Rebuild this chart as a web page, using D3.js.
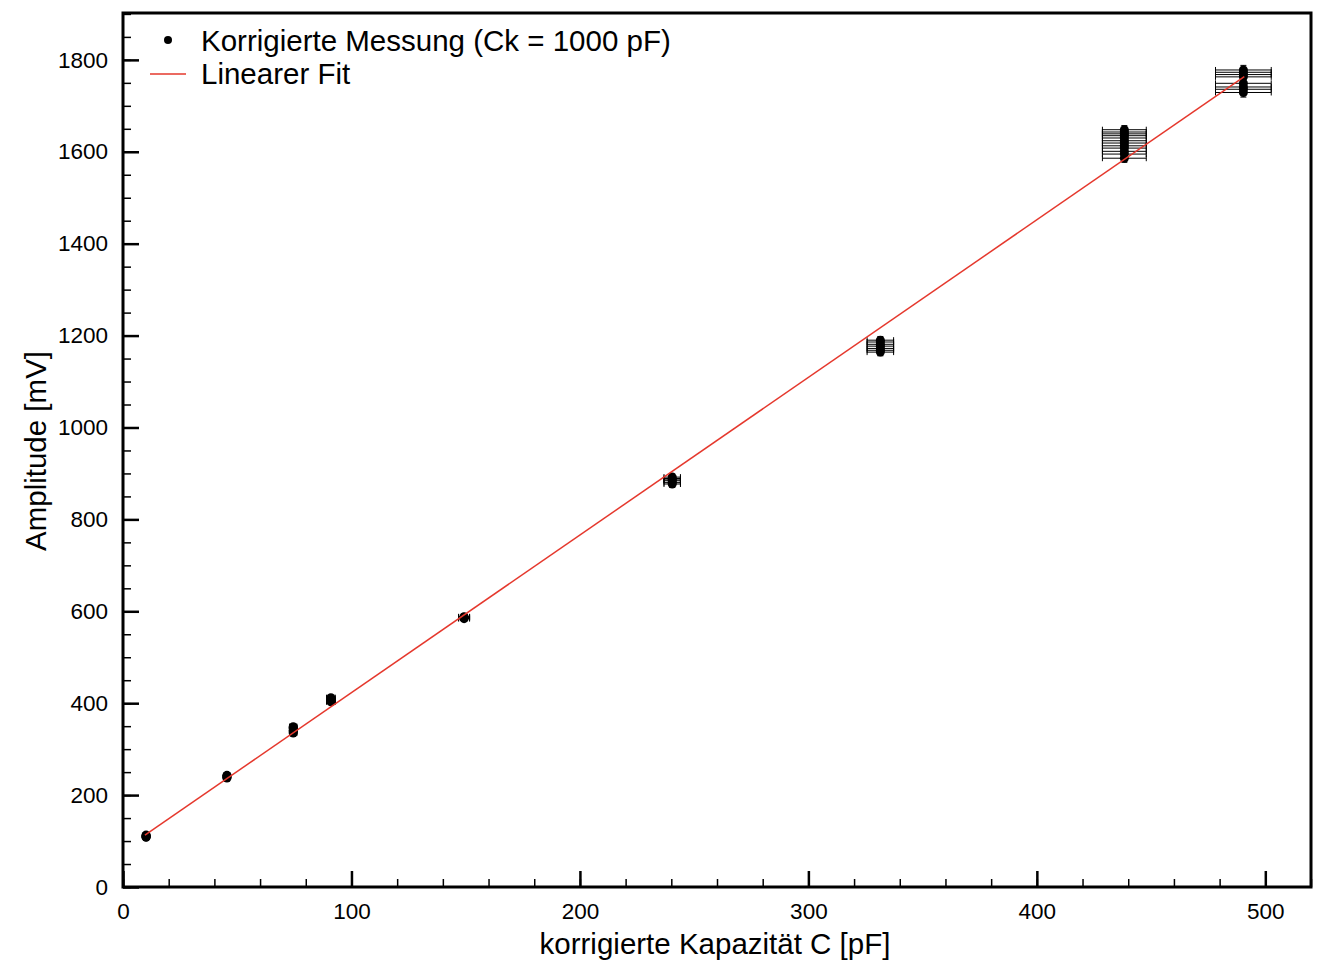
<!DOCTYPE html>
<html>
<head>
<meta charset="utf-8">
<script src="https://cdn.jsdelivr.net/npm/d3@7"></script>
<style>
  body { margin: 0; background: #fff; }
  svg text { font-family: "Liberation Sans", Arial, Helvetica, sans-serif; fill: #000; }
</style>
</head>
<body>
<svg id="chart" width="1326" height="961"></svg>
<script>
// measured capacitances (pF), with their x uncertainties
const capacities = [10.1, 45.5, 74.5, 91.0, 149.3, 240.4, 331.5, 438.3, 490.4];
const capErrors = [0.4, 1.0, 1.6, 1.9, 2.4, 3.6, 5.8, 9.6, 12.2];
const ampErrors = [4, 5, 5, 5, 6, 7, 8, 9, 10];

// repeated amplitude readings (mV) for each capacitance
const amplitudes = [
    [108, 110, 112, 111, 109, 113],
    [237, 239, 242, 243, 240],
    [335, 338, 341, 345, 347, 349],
    [403, 406, 410, 412, 405],
    [584, 586, 588, 587],
    [877, 880, 884, 886, 889, 892],
    [1164, 1168, 1172, 1177, 1181, 1186, 1190],
    [1586, 1595, 1601, 1608, 1613, 1619, 1624, 1630, 1635, 1639, 1643, 1648],
    [1729, 1736, 1741, 1749, 1763, 1768, 1773, 1778]
];

// linear fit
const fitSlope = 3.43;
const fitIntercept = 80;
const fitRange = [9.6, 490.8];

const xTicks = [0, 100, 200, 300, 400, 500];
const yTicks = [0, 200, 400, 600, 800, 1000, 1200, 1400, 1600, 1800];

const legendLabels = ["Korrigierte Messung (Ck = 1000 pF)", "Linearer Fit"];
const xTitle = "korrigierte Kapazität C [pF]";
const yTitle = "Amplitude [mV]";

const svg = d3.select('#chart');
const plotLeft = 123, plotRight = 1311, plotTop = 13, plotBottom = 887;
const red = '#e5382d';
const tickFont = 22.5, titleFont = 29.5;

const x = d3.scaleLinear().domain([0, 520]).range([plotLeft, plotRight]);
const y = d3.scaleLinear().domain([0, 1902]).range([plotBottom, plotTop]);

// minor ticks
svg.append('g')
    .attr('transform', `translate(0,${plotBottom})`)
    .call(d3.axisBottom(x).tickValues(d3.range(0, 521, 20)).tickSize(-8).tickFormat(''))
    .call(g => g.select('.domain').remove())
    .call(g => g.selectAll('line').attr('stroke-width', 1.5));

svg.append('g')
    .attr('transform', `translate(${plotLeft},0)`)
    .call(d3.axisLeft(y).tickValues(d3.range(0, 1901, 50)).tickSize(-8).tickFormat(''))
    .call(g => g.select('.domain').remove())
    .call(g => g.selectAll('line').attr('stroke-width', 1.5));

// major ticks with labels
svg.append('g')
    .attr('transform', `translate(0,${plotBottom})`)
    .call(d3.axisBottom(x).tickValues(xTicks).tickSize(-16).tickPadding(16).tickFormat(d3.format('d')))
    .call(g => g.select('.domain').remove())
    .call(g => g.selectAll('line').attr('stroke-width', 2.5))
    .call(g => g.selectAll('text').attr('font-size', tickFont).style('font-family', '"Liberation Sans", Arial, sans-serif'));

svg.append('g')
    .attr('transform', `translate(${plotLeft},0)`)
    .call(d3.axisLeft(y).tickValues(yTicks).tickSize(-16).tickPadding(15).tickFormat(d3.format('d')))
    .call(g => g.select('.domain').remove())
    .call(g => g.selectAll('line').attr('stroke-width', 2.5))
    .call(g => g.selectAll('text').attr('font-size', tickFont).style('font-family', '"Liberation Sans", Arial, sans-serif'));

// frame
svg.append('rect')
    .attr('x', plotLeft).attr('y', plotTop)
    .attr('width', plotRight - plotLeft).attr('height', plotBottom - plotTop)
    .attr('fill', 'none').attr('stroke', '#000').attr('stroke-width', 3);

// flatten points
const points = [];
capacities.forEach((c, i) => {
    amplitudes[i].forEach(a => points.push({ c: c, a: a, dc: capErrors[i], da: ampErrors[i] }));
});

const marks = svg.append('g');
const cap = 3;

points.forEach(p => {
    // x error bar
    const x0 = x(p.c - p.dc), x1 = x(p.c + p.dc), yy = y(p.a);
    marks.append('line').attr('x1', x0).attr('x2', x1).attr('y1', yy).attr('y2', yy)
        .attr('stroke', '#000').attr('stroke-width', 1);
    [x0, x1].forEach(xe => {
        marks.append('line').attr('x1', xe).attr('x2', xe).attr('y1', yy - cap).attr('y2', yy + cap)
            .attr('stroke', '#000').attr('stroke-width', 1);
    });
    // y error bar
    const xx = x(p.c), y0 = y(p.a - p.da), y1 = y(p.a + p.da);
    marks.append('line').attr('x1', xx).attr('x2', xx).attr('y1', y0).attr('y2', y1)
        .attr('stroke', '#000').attr('stroke-width', 1);
    [y0, y1].forEach(ye => {
        marks.append('line').attr('x1', xx - cap).attr('x2', xx + cap).attr('y1', ye).attr('y2', ye)
            .attr('stroke', '#000').attr('stroke-width', 1);
    });
});

marks.selectAll('circle')
    .data(points)
    .join('circle')
    .attr('cx', d => x(d.c))
    .attr('cy', d => y(d.a))
    .attr('r', 4.5)
    .attr('fill', '#000');

// fit line
svg.append('line')
    .attr('x1', x(fitRange[0])).attr('y1', y(fitIntercept + fitSlope * fitRange[0]))
    .attr('x2', x(fitRange[1])).attr('y2', y(fitIntercept + fitSlope * fitRange[1]))
    .attr('stroke', red).attr('stroke-width', 1.5);

// legend
const legend = svg.append('g');
legend.append('circle').attr('cx', 168).attr('cy', 40).attr('r', 4).attr('fill', '#000');
legend.append('line').attr('x1', 150).attr('x2', 186).attr('y1', 74).attr('y2', 74)
    .attr('stroke', red).attr('stroke-width', 1.5);
legendLabels.forEach((t, i) => {
    legend.append('text')
        .attr('x', 201).attr('y', 51 + i * 33)
        .attr('font-size', titleFont)
        .text(t);
});

// axis titles
svg.append('text')
    .attr('x', 715).attr('y', 954)
    .attr('text-anchor', 'middle')
    .attr('font-size', titleFont)
    .text(xTitle);

svg.append('text')
    .attr('transform', 'translate(46,451) rotate(-90)')
    .attr('text-anchor', 'middle')
    .attr('font-size', titleFont)
    .text(yTitle);
</script>
</body>
</html>
